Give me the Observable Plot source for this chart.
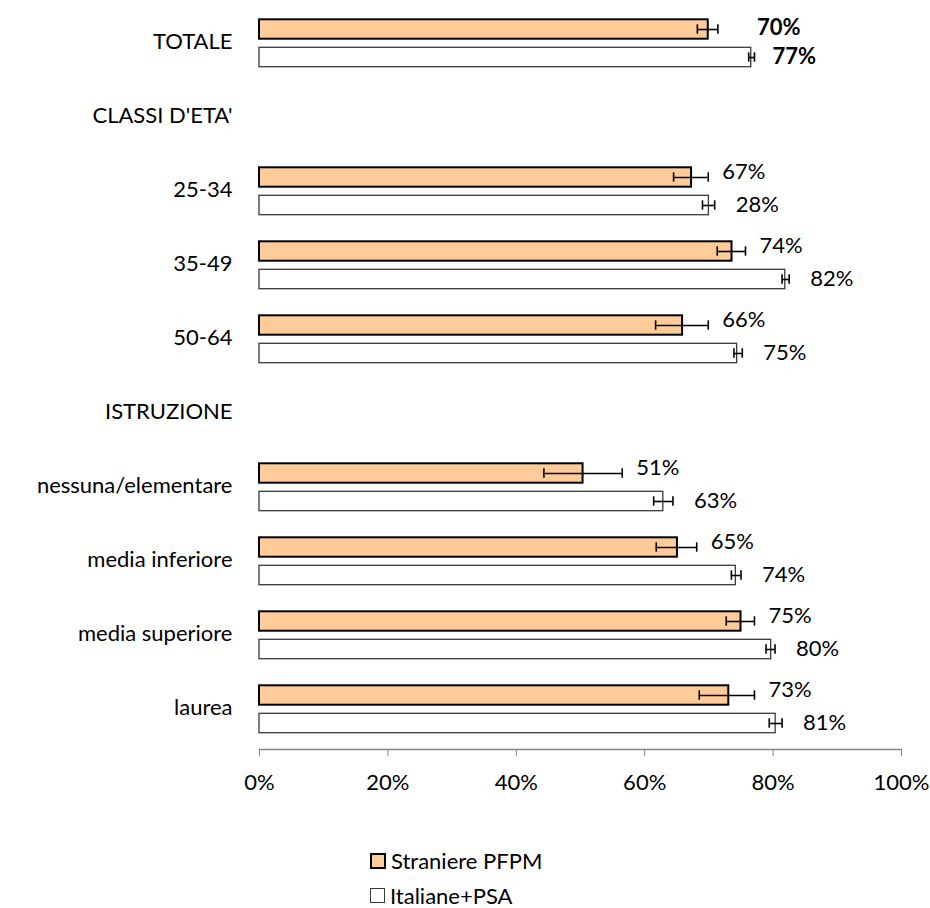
<!DOCTYPE html>
<html>
<head>
<meta charset="utf-8">
<script src="https://cdn.jsdelivr.net/npm/d3@7"></script>
<script src="https://cdn.jsdelivr.net/npm/@observablehq/plot@0.6"></script>
<style>
  html, body { margin: 0; padding: 0; background: #fff; overflow: hidden; }
  #chart svg { display: block; }
  .legend { font-family: Lato, "Noto Sans", sans-serif; font-size: 22px; line-height: 1; color: #000; margin-top: 33px; padding-left: 370px; }
  .legend .row { display: flex; align-items: center; height: 35px; }
  .legend .sw { width: 12px; height: 12px; margin-right: 5px; box-sizing: content-box; }
</style>
</head>
<body>
<div id="chart"></div>
<script>
const rows = ["TOTALE", "CLASSI D'ETA'", "25-34", "35-49", "50-64", "ISTRUZIONE", "nessuna/elementare", "media inferiore", "media superiore", "laurea"];
const groups = ["TOTALE", "25-34", "35-49", "50-64", "nessuna/elementare", "media inferiore", "media superiore", "laurea"];
const series = ["Straniere PFPM", "Italiane+PSA"];

const straniere      = [69.9, 67.3, 73.6, 65.9, 50.4, 65.1, 75.0, 73.1];
const straniereLo    = [68.2, 64.5, 71.3, 61.7, 44.3, 61.8, 72.7, 68.5];
const straniereHi    = [71.4, 69.9, 75.7, 69.9, 56.5, 68.1, 77.1, 77.1];
const straniereLabel = ["70%", "67%", "74%", "66%", "51%", "65%", "75%", "73%"];

const italiane       = [76.6, 70.0, 81.9, 74.4, 62.9, 74.2, 79.7, 80.4];
const italianeLo     = [76.2, 69.0, 81.4, 73.9, 61.4, 73.5, 78.9, 79.4];
const italianeHi     = [77.1, 70.9, 82.5, 75.2, 64.4, 75.0, 80.3, 81.4];
const italianeLabel  = ["77%", "28%", "82%", "75%", "63%", "74%", "80%", "81%"];

const xTicks = [0, 20, 40, 60, 80, 100];

const colors = {"Straniere PFPM": "#FFCC99", "Italiane+PSA": "#FFFFFF"};

const dS = groups.map((g, i) => ({group: g, value: straniere[i], lo: straniereLo[i], hi: straniereHi[i], label: straniereLabel[i], bold: g === "TOTALE"}));
const dI = groups.map((g, i) => ({group: g, value: italiane[i], lo: italianeLo[i], hi: italianeHi[i], label: italianeLabel[i], bold: g === "TOTALE"}));

const H = 810, MT = 3, MB = 61;
const step = (H - MT - MB) / rows.length;
const half = step / 2;

const font = "Lato, 'Noto Sans', sans-serif";

const plot = Plot.plot({
  width: 930,
  height: H,
  marginLeft: 259,
  marginRight: 29,
  marginTop: MT,
  marginBottom: MB,
  style: {fontFamily: font, fontSize: "22px", color: "#000", background: "#fff"},
  x: {domain: [0, 100], ticks: xTicks, tickFormat: d => d + "%"},
  y: {domain: rows, padding: 0},
  marks: [
    // bars
    Plot.barX(dS, {y: "group", x: "value", fill: colors[series[0]], stroke: "#000", strokeWidth: 2,
      insetTop: half - 24, insetBottom: half + 4}),
    Plot.barX(dI, {y: "group", x: "value", fill: colors[series[1]], stroke: "#3a3a3a", strokeWidth: 1.3,
      insetTop: half + 4, insetBottom: half - 24}),
    // error bars
    Plot.ruleY(dS, {y: "group", x1: "lo", x2: "hi", dy: -14, stroke: "#000", strokeWidth: 1.6}),
    Plot.tickX(dS, {y: "group", x: "lo", insetTop: half - 19, insetBottom: half + 9, stroke: "#000", strokeWidth: 1.6}),
    Plot.tickX(dS, {y: "group", x: "hi", insetTop: half - 19, insetBottom: half + 9, stroke: "#000", strokeWidth: 1.6}),
    Plot.ruleY(dI, {y: "group", x1: "lo", x2: "hi", dy: 14, stroke: "#000", strokeWidth: 1.6}),
    Plot.tickX(dI, {y: "group", x: "lo", insetTop: half + 9, insetBottom: half - 19, stroke: "#000", strokeWidth: 1.6}),
    Plot.tickX(dI, {y: "group", x: "hi", insetTop: half + 9, insetBottom: half - 19, stroke: "#000", strokeWidth: 1.6}),
    // data labels
    Plot.text(dS.filter(d => !d.bold), {y: "group", x: "hi", text: "label", dx: 14, dy: -20, textAnchor: "start", fontSize: 22, fill: "#000"}),
    Plot.text(dS.filter(d => d.bold), {y: "group", x: "hi", text: "label", dx: 39, dy: -16, textAnchor: "start", fontSize: 22, fontWeight: "bold", fill: "#000"}),
    Plot.text(dI.filter(d => !d.bold), {y: "group", x: "hi", text: "label", dx: 21, dy: 13, textAnchor: "start", fontSize: 22, fill: "#000"}),
    Plot.text(dI.filter(d => d.bold), {y: "group", x: "hi", text: "label", dx: 18, dy: 13, textAnchor: "start", fontSize: 22, fontWeight: "bold", fill: "#000"}),
    // axes
    Plot.frame({anchor: "bottom", stroke: "#868686", strokeWidth: 1.3}),
    Plot.axisX({anchor: "bottom", ticks: xTicks, tickFormat: d => d + "%", tickSize: 7, tickPadding: 18, stroke: "#868686", fontSize: 22, fill: "#000", label: null}),
    Plot.axisY({anchor: "left", tickSize: 0, tickPadding: 27, dy: -2, fontSize: 22, fill: "#000", label: null})
  ]
});
document.getElementById("chart").appendChild(plot);

const legend = document.createElement("div");
legend.className = "legend";
series.forEach((s, i) => {
  const row = document.createElement("div");
  row.className = "row";
  const sw = document.createElement("span");
  sw.className = "sw";
  sw.style.background = colors[s];
  sw.style.border = i === 0 ? "2px solid #000" : "1px solid #3a3a3a";
  if (i !== 0) { sw.style.width = "13px"; sw.style.height = "13px"; }
  const t = document.createElement("span");
  t.textContent = s;
  row.appendChild(sw);
  row.appendChild(t);
  legend.appendChild(row);
});
document.body.appendChild(legend);
</script>
</body>
</html>
